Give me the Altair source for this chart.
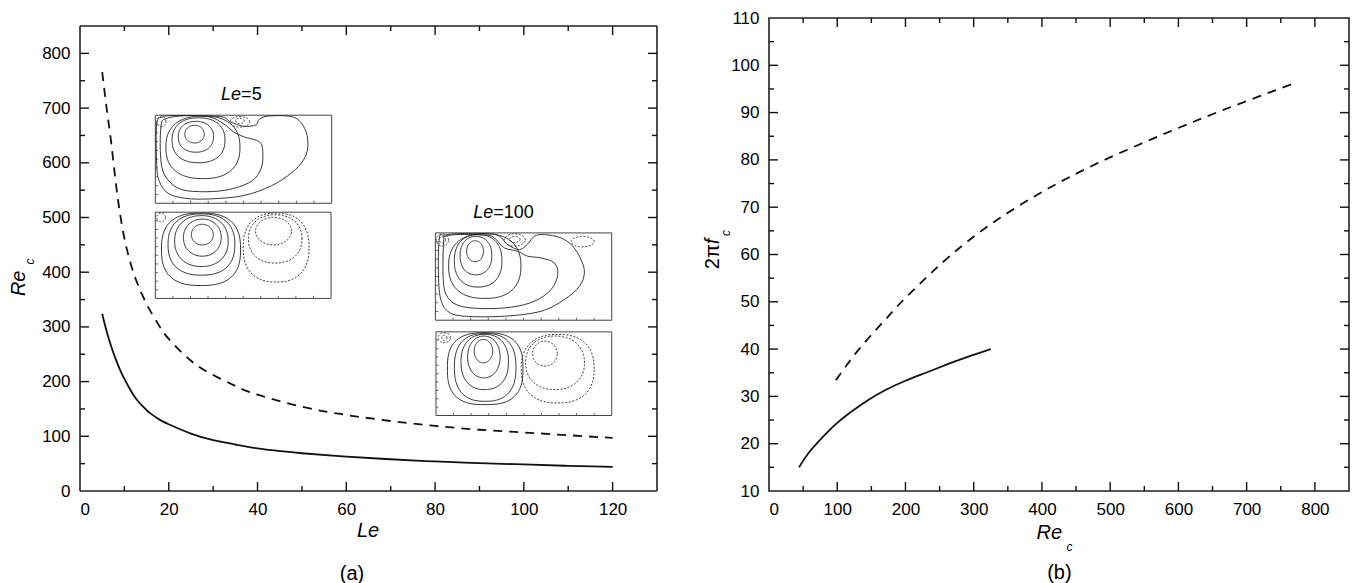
import numpy as np
import pandas as pd
import altair as alt

FONT = "Liberation Sans"
INK = "#111111"

# ---------------- panel (a) data: Re_c vs Le ----------------
le_solid = [5, 6, 7, 8, 9, 10, 11, 12, 13, 14, 15, 16, 18, 20, 25, 30, 35, 40, 45, 50, 60, 70, 80, 90, 100, 110, 120]
re_solid = [324, 292, 265, 242, 222, 205, 190, 176, 165, 156, 148, 141, 130, 122, 105, 93, 85, 78, 73, 69, 63, 58, 54, 51, 48.5, 46, 44]

le_dash = [5, 6, 7, 8, 9, 10, 11, 12, 13, 14, 15, 16, 18, 20, 25, 30, 35, 40, 50, 60, 70, 80, 90, 100, 110, 120]
re_dash = [766, 700, 639, 568, 508, 462, 428, 400, 378, 359, 342, 327, 300, 278, 238, 212, 192, 176, 154, 139, 128, 119, 112, 107, 102, 97]

# ---------------- panel (b) data: 2*pi*f_c vs Re_c ----------------
reb_solid = [44, 60, 84, 100, 120, 145, 170, 200, 230, 260, 290, 325]
fb_solid = [15, 18.4, 22.2, 24.4, 26.7, 29.2, 31.3, 33.3, 35.0, 36.7, 38.3, 40]

reb_dash = [98, 132, 169, 193, 221, 266, 327, 400, 480, 571, 663, 766]
fb_dash = [33.4, 40, 46, 49.8, 53.8, 59.8, 66.6, 73.2, 79.2, 85, 90.4, 96]

# ---------------- insets (streamline pictures) ----------------
inset_names = ["A", "B", "C", "D"]
inset_le0 = [16.97, 16.97, 80.07, 80.2]
inset_le1 = [56.7, 56.56, 119.8, 119.8]
inset_re0 = [526, 352, 312.2, 138]
inset_re1 = [687, 509.7, 471.8, 290.9]

ring_inset = ["A", "A", "A", "A", "A", "A", "A",
              "B", "B", "B", "B", "B", "B", "B", "B", "B",
              "C", "C", "C", "C", "C", "C", "C", "C", "C",
              "D", "D", "D", "D", "D", "D", "D", "D", "D", "D"]
ring_cu = [0.445, 0.46, 0.49, 0.54, 0.07, 0.96, 0.96,
           0.535, 0.535, 0.525, 0.525, 0.52, 1.345, 1.365, 1.375, 0.066,
           0.45, 0.46, 0.485, 0.56, 0.08, 0.08, 0.90, 0.90, 1.67,
           0.54, 0.545, 0.555, 0.56, 0.56, 1.24, 1.355, 1.385, 0.095, 0.095]
ring_cv = [0.785, 0.755, 0.715, 0.635, 0.93, 0.925, 0.935,
           0.74, 0.705, 0.665, 0.625, 0.57, 0.78, 0.69, 0.59, 0.94,
           0.79, 0.74, 0.68, 0.62, 0.92, 0.92, 0.92, 0.925, 0.90,
           0.77, 0.70, 0.64, 0.575, 0.56, 0.74, 0.63, 0.56, 0.93, 0.93]
ring_ru = [0.11, 0.20, 0.30, 0.42, 0.05, 0.11, 0.05,
           0.125, 0.215, 0.305, 0.38, 0.45, 0.205, 0.305, 0.375, 0.05,
           0.095, 0.18, 0.27, 0.41, 0.07, 0.035, 0.12, 0.06, 0.13,
           0.105, 0.185, 0.27, 0.35, 0.43, 0.14, 0.335, 0.415, 0.07, 0.03]
ring_rv = [0.10, 0.175, 0.255, 0.355, 0.06, 0.06, 0.03,
           0.12, 0.215, 0.295, 0.355, 0.42, 0.16, 0.28, 0.40, 0.05,
           0.12, 0.22, 0.30, 0.37, 0.07, 0.035, 0.07, 0.035, 0.06,
           0.14, 0.25, 0.33, 0.405, 0.43, 0.15, 0.32, 0.41, 0.06, 0.03]
ring_exp = [2.1, 2.2, 2.3, 2.4, 2.0, 2.0, 2.0,
            2.0, 2.1, 2.2, 2.4, 2.6, 2.0, 2.2, 2.4, 2.0,
            2.1, 2.2, 2.3, 2.4, 2.0, 2.0, 2.0, 2.0, 2.0,
            2.0, 2.1, 2.3, 2.5, 2.7, 2.0, 2.2, 2.4, 2.0, 2.0]
ring_style = ["solid", "solid", "solid", "solid", "dash", "dash", "dash",
              "solid", "solid", "solid", "solid", "solid", "dash", "dash", "dash", "dash",
              "solid", "solid", "solid", "solid", "dash", "dash", "dash", "dash", "dash",
              "solid", "solid", "solid", "solid", "solid", "dash", "dash", "dash", "dash", "dash"]

A5_u = [0.066, 0.059, 0.105, 0.262, 0.496, 0.809, 1.082, 1.20, 1.219, 1.18, 1.004, 0.887, 0.77, 0.613, 0.34, 0.125]
A5_v = [0.887, 0.547, 0.32, 0.17, 0.132, 0.151, 0.245, 0.396, 0.585, 0.698, 0.755, 0.811, 0.906, 0.981, 0.995, 0.962]
A6_u = [0.016, 0.016, 0.047, 0.145, 0.34, 0.61, 1.0, 1.32, 1.55, 1.68, 1.73, 1.71, 1.63, 1.51, 1.28, 1.18, 1.14, 1.0, 0.85, 0.73, 0.22, 0.086]
A6_v = [0.906, 0.434, 0.245, 0.113, 0.057, 0.049, 0.087, 0.20, 0.35, 0.49, 0.64, 0.81, 0.94, 0.99, 0.99, 0.955, 0.89, 0.875, 0.925, 0.985, 0.995, 0.98]
C5_u = [0.095, 0.087, 0.121, 0.253, 0.518, 0.858, 1.123, 1.312, 1.388, 1.35, 1.198, 1.047, 0.934, 0.783, 0.688, 0.594, 0.253, 0.121]
C5_v = [0.924, 0.523, 0.294, 0.172, 0.134, 0.149, 0.218, 0.351, 0.523, 0.656, 0.714, 0.733, 0.79, 0.828, 0.924, 0.973, 0.981, 0.962]
C6_u = [0.045, 0.034, 0.057, 0.14, 0.329, 0.783, 1.199, 1.463, 1.633, 1.69, 1.652, 1.558, 1.425, 1.236, 1.123, 1.047, 0.953, 0.82, 0.726, 0.594, 0.253, 0.102]
C6_v = [0.943, 0.561, 0.256, 0.103, 0.046, 0.046, 0.103, 0.237, 0.389, 0.542, 0.695, 0.847, 0.943, 0.981, 0.962, 0.874, 0.809, 0.866, 0.962, 0.992, 0.992, 0.973]

inset_xticks = [0.2, 0.4, 0.6, 0.8, 1.0, 1.2, 1.4, 1.6, 1.8]
inset_yticks = [0.1, 0.2, 0.3, 0.4, 0.5, 0.6, 0.7, 0.8, 0.9]

lab_italic = ["Le", "Le"]
lab_rest = ["=5", "=100"]
lab_le = [36.3, 93.1]
lab_re = [714, 498.7]

# ---------------- axes ----------------
a_xlabels = [0, 20, 40, 60, 80, 100, 120]
a_ylabels = [0, 100, 200, 300, 400, 500, 600, 700, 800]
a_xmajor = [20, 40, 60, 80, 100, 120]
a_xminor = [10, 30, 50, 70, 90, 110]
a_ymajor = [100, 200, 300, 400, 500, 600, 700, 800]
a_yminor = [50, 150, 250, 350, 450, 550, 650, 750]
a_frame_top = 850

b_xlabels = [0, 100, 200, 300, 400, 500, 600, 700, 800]
b_ylabels = [10, 20, 30, 40, 50, 60, 70, 80, 90, 100, 110]
b_xmajor = [100, 200, 300, 400, 500, 600, 700, 800]
b_xminor = [50, 150, 250, 350, 450, 550, 650, 750]
b_ymajor = [20, 30, 40, 50, 60, 70, 80, 90, 100]
b_yminor = [15, 25, 35, 45, 55, 65, 75, 85, 95, 105]

WA, HA = 577, 473
A_YMAX = 864.7              # panel (a) frame top (850) sits 8 px below the panel (b) frame top
A_TOP = HA * (1 - a_frame_top / A_YMAX)
WB, HB = 580, 473


def enc_factory(xdom, ydom, xvals, yvals):
    xs = alt.Scale(domain=xdom, nice=False, zero=False)
    ys = alt.Scale(domain=ydom, nice=False, zero=False)
    xax = alt.Axis(values=xvals, title=None, labelPadding=10)
    yax = alt.Axis(values=yvals, title=None, labelPadding=10)

    def X(f):
        return alt.X(f, type="quantitative", scale=xs, axis=xax)

    def Y(f):
        return alt.Y(f, type="quantitative", scale=ys, axis=yax)
    return X, Y


def frame_ticks(X, Y, xmaj, xmin, ymaj, ymin, W, H, top=0.0):
    out = []
    for vals, L in [(xmaj, 9), (xmin, 5)]:
        d = pd.DataFrame({"v": vals})
        out.append(alt.Chart(d).mark_rule(color=INK, strokeWidth=1.4).encode(
            x=X("v"), y=alt.value(H), y2=alt.value(H - L)))
        out.append(alt.Chart(d).mark_rule(color=INK, strokeWidth=1.4).encode(
            x=X("v"), y=alt.value(top), y2=alt.value(top + L)))
    for vals, L in [(ymaj, 9), (ymin, 5)]:
        d = pd.DataFrame({"v": vals})
        out.append(alt.Chart(d).mark_rule(color=INK, strokeWidth=1.4).encode(
            y=Y("v"), x=alt.value(0), x2=alt.value(L)))
        out.append(alt.Chart(d).mark_rule(color=INK, strokeWidth=1.4).encode(
            y=Y("v"), x=alt.value(W), x2=alt.value(W - L)))
    return out


def text_at(t, x, y, size, italic=False, angle=0, align="center"):
    d = pd.DataFrame({"t": [t]})
    kw = dict(font=FONT, fontSize=size, color="black", align=align, baseline="middle")
    if italic:
        kw["fontStyle"] = "italic"
    if angle:
        kw["angle"] = angle
    return alt.Chart(d).mark_text(**kw).encode(
        x=alt.value(x), y=alt.value(y), text=alt.Text("t:N"))


def curve_layers(X, Y, xs_, ys_, xd, yd):
    s = pd.DataFrame({"x": xs_, "y": ys_})
    d = pd.DataFrame({"x": xd, "y": yd})
    l1 = alt.Chart(s).mark_line(color=INK, strokeWidth=1.8, interpolate="natural").encode(x=X("x"), y=Y("y"))
    l2 = alt.Chart(d).mark_line(color=INK, strokeWidth=1.8, interpolate="natural", strokeDash=[9, 7]).encode(x=X("x"), y=Y("y"))
    return [l1, l2]


# ================= panel (a) =================
XA, YA = enc_factory([0, 130], [0, A_YMAX], a_xlabels, a_ylabels)

bounds = {n: (inset_le0[i], inset_le1[i], inset_re0[i], inset_re1[i]) for i, n in enumerate(inset_names)}


def to_data(name, u, v):
    l0, l1, r0, r1 = bounds[name]
    return l0 + np.asarray(u) / 2.0 * (l1 - l0), r0 + np.asarray(v) * (r1 - r0)


frame_df = pd.DataFrame({"y0": [0], "y1": [a_frame_top]})
frame_a = [
    alt.Chart(frame_df).mark_rule(color="#222222", strokeWidth=1.6).encode(y=YA("y1"), x=alt.value(0), x2=alt.value(WA)),
    alt.Chart(frame_df).mark_rule(color="#222222", strokeWidth=1.6).encode(y=YA("y0"), x=alt.value(0), x2=alt.value(WA)),
    alt.Chart(frame_df).mark_rule(color="#222222", strokeWidth=1.6).encode(x=alt.value(0), y=YA("y0"), y2="y1"),
    alt.Chart(frame_df).mark_rule(color="#222222", strokeWidth=1.6).encode(x=alt.value(WA), y=YA("y0"), y2="y1"),
]

boxes = pd.DataFrame({"x0": inset_le0, "x1": inset_le1, "y0": inset_re0, "y1": inset_re1})
box_layer = alt.Chart(boxes).mark_rect(fill="white", stroke="#444444", strokeWidth=1).encode(
    x=XA("x0"), x2="x1", y=YA("y0"), y2="y1")

rows = []
t = np.linspace(0, 2 * np.pi, 90)
for k in range(len(ring_inset)):
    c, s = np.cos(t), np.sin(t)
    e = ring_exp[k]
    u = ring_cu[k] + ring_ru[k] * np.sign(c) * np.abs(c) ** (2.0 / e)
    v = ring_cv[k] + ring_rv[k] * np.sign(s) * np.abs(s) ** (2.0 / e)
    v = np.minimum(v, 0.995)
    xx, yy = to_data(ring_inset[k], u, v)
    for i in range(len(t)):
        rows.append({"cid": k, "i": i, "x": xx[i], "y": yy[i], "st": ring_style[k]})
rings_df = pd.DataFrame(rows)
rings_solid = alt.Chart(rings_df[rings_df.st == "solid"]).mark_line(color="#222222", strokeWidth=0.9).encode(
    x=XA("x"), y=YA("y"), detail="cid:N", order="i:Q")
rings_dash = alt.Chart(rings_df[rings_df.st == "dash"]).mark_line(color="#222222", strokeWidth=0.9, strokeDash=[2, 1.6]).encode(
    x=XA("x"), y=YA("y"), detail="cid:N", order="i:Q")

rows = []
for cid, (nm, uu, vv) in enumerate([("A", A5_u, A5_v), ("A", A6_u, A6_v), ("C", C5_u, C5_v), ("C", C6_u, C6_v)]):
    xx, yy = to_data(nm, uu, vv)
    for i in range(len(uu)):
        rows.append({"cid": cid, "i": i, "x": xx[i], "y": yy[i]})
traced_layer = alt.Chart(pd.DataFrame(rows)).mark_line(color="#222222", strokeWidth=0.9, interpolate="cardinal-closed").encode(
    x=XA("x"), y=YA("y"), detail="cid:N", order="i:Q")

rows = []
for nm in inset_names:
    for uu in inset_xticks:
        x0, y0 = to_data(nm, [uu], [0.0])
        _, y1 = to_data(nm, [uu], [0.03])
        rows.append({"x": x0[0], "x2": x0[0], "y": y0[0], "y2": y1[0]})
    for vv in inset_yticks:
        x0, y0 = to_data(nm, [0.0], [vv])
        x1, _ = to_data(nm, [0.03], [vv])
        rows.append({"x": x0[0], "x2": x1[0], "y": y0[0], "y2": y0[0]})
iticks_layer = alt.Chart(pd.DataFrame(rows)).mark_rule(color="#444444", strokeWidth=0.8).encode(
    x=XA("x"), x2="x2", y=YA("y"), y2="y2")

labs = pd.DataFrame({"a": lab_italic, "b": lab_rest, "x": lab_le, "y": lab_re})
lab1 = alt.Chart(labs).mark_text(font=FONT, fontSize=18, fontStyle="italic", align="right", baseline="alphabetic", color="black").encode(
    x=XA("x"), y=YA("y"), text="a:N")
lab2 = alt.Chart(labs).mark_text(font=FONT, fontSize=18, align="left", baseline="alphabetic", color="black").encode(
    x=XA("x"), y=YA("y"), text="b:N")

titles_a = [
    text_at("Re", -60.7, 265.3, 20, italic=True, angle=270),
    text_at("c", -50.3, 243.5, 12, italic=True, angle=270),
    text_at("Le", 288, 513.3, 20, italic=True),
    text_at("(a)", 272, 556, 20),
]

panel_a = alt.layer(
    box_layer, iticks_layer, rings_solid, rings_dash, traced_layer, lab1, lab2,
    *curve_layers(XA, YA, le_solid, re_solid, le_dash, re_dash),
    *frame_a,
    *frame_ticks(XA, YA, a_xmajor, a_xminor, a_ymajor, a_yminor, WA, HA, top=A_TOP),
    *titles_a
).properties(width=WA, height=HA, view=alt.ViewBackground(stroke="transparent"))

# ================= panel (b) =================
XB, YB = enc_factory([0, 850], [10, 110], b_xlabels, b_ylabels)

titles_b = [
    text_at("2π", -55.6, 226.3, 20, angle=270, align="right"),
    text_at("f", -55.6, 226.3, 20, italic=True, angle=270, align="left"),
    text_at("c", -42.6, 215, 12, italic=True, angle=270),
    text_at("Re", 280.4, 514.8, 20, italic=True),
    text_at("c", 300.5, 529.3, 12, italic=True),
    text_at("(b)", 290.4, 555.3, 20),
]

panel_b = alt.layer(
    *curve_layers(XB, YB, reb_solid, fb_solid, reb_dash, fb_dash),
    *frame_ticks(XB, YB, b_xmajor, b_xminor, b_ymajor, b_yminor, WB, HB),
    *titles_b
).properties(width=WB, height=HB)

chart = alt.hconcat(panel_a, panel_b, spacing=112, bounds="flush").properties(
    padding={"left": 8, "top": 8, "right": 0, "bottom": 0},
    background="white",
).configure_view(stroke="#222222", strokeWidth=1.6).configure_axis(
    labelFont=FONT, labelFontSize=17, labelColor="black", ticks=False, domain=False, grid=False
)

chart.save("out.html", embed_options={"renderer": "svg", "actions": False})
